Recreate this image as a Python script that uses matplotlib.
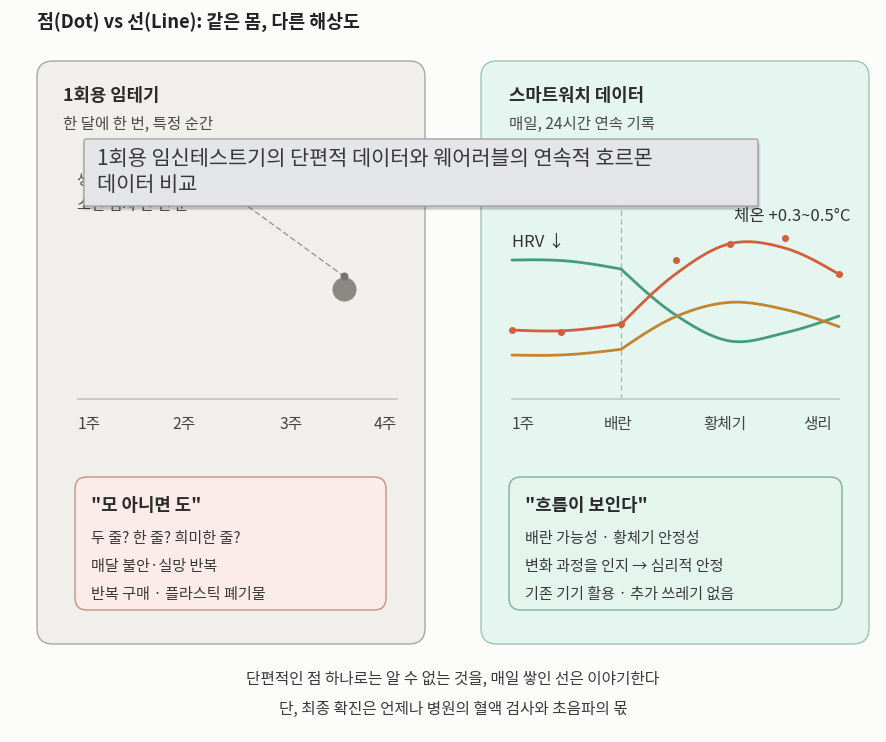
import numpy as np
import matplotlib
matplotlib.use("Agg")
import matplotlib.pyplot as plt
from matplotlib.patches import FancyBboxPatch
from matplotlib import transforms as mtrans

plt.rcParams['font.family'] = ['Noto Sans CJK KR', 'DejaVu Sans']

# ---------------- data ----------------
main_title = "점(Dot) vs 선(Line): 같은 몸, 다른 해상도"
tooltip_text = "1회용 임신테스트기의 단편적 데이터와 웨어러블의 연속적 호르몬\n데이터 비교"

left_title = "1회용 임테기"
left_sub = "한 달에 한 번, 특정 순간"
left_note = "생리 예정일 무렵\n소변 검사 한 번 뿐"
week_labels = ["1주", "2주", "3주", "4주"]
week_pos = [1, 2, 3, 4]
test_week = 3.5
test_value = 61

right_title = "스마트워치 데이터"
right_sub = "매일, 24시간 연속 기록"
phase_labels = ["1주", "배란", "황체기", "생리"]
phase_pos = [0, 1.95, 3.9, 5.6]
day_idx = [0, 1, 2, 3, 4, 5, 6]
ovulation_idx = 2
temp_trend = [38.3, 38.0, 41.5, 69.4, 86.3, 83.9, 69.3]
temp_daily = [38.3, 37.2, 41.7, 77.2, 86.1, 89.4, 69.4]
daily_x = [0, 0.9, 2, 3, 4, 5, 6]
hrv = [77.2, 76.7, 72.2, 46.7, 32.2, 36.7, 46.1]
hormone = [24.4, 24.6, 27.6, 45.7, 53.7, 49.8, 40.2]

left_box_title = "\"모 아니면 도\""
left_box_lines = ["두 줄? 한 줄? 희미한 줄?", "매달 불안·실망 반복", "반복 구매 · 플라스틱 폐기물"]
right_box_title = "\"흐름이 보인다\""
right_box_lines = ["배란 가능성 · 황체기 안정성", "변화 과정을 인지 → 심리적 안정", "기존 기기 활용 · 추가 쓰레기 없음"]
footer_lines = ["단편적인 점 하나로는 알 수 없는 것을, 매일 쌓인 선은 이야기한다",
                "단, 최종 확진은 언제나 병원의 혈액 검사와 초음파의 몫"]

# ---------------- helpers ----------------
W, H = 886, 742
fig = plt.figure(figsize=(W / 100, H / 100), dpi=100)
fig.patch.set_facecolor('#fcfcfb')


def fx(x):
    return x / W


def fy(y):
    return 1 - y / H


def rbox(x0, y0, x1, y1, fc, ec, r=14, lw=1.0, z=0, alpha=1.0):
    p = FancyBboxPatch((fx(x0), fy(y1)), fx(x1 - x0), (y1 - y0) / H,
                       boxstyle=f"round,pad=0,rounding_size={r / W}",
                       transform=fig.transFigure, fc=fc, ec=ec, lw=lw,
                       zorder=z, alpha=alpha, mutation_aspect=W / H)
    fig.patches.append(p)
    return p


def ftext(x, y, s, **kw):
    kw.setdefault('va', 'center')
    kw.setdefault('ha', 'left')
    return fig.text(fx(x), fy(y), s, **kw)


def catmull(xs, ys, n=40):
    """Cardinal (Catmull-Rom) cubic through the points, one-sided end tangents."""
    xs = np.asarray(xs, float)
    ys = np.asarray(ys, float)
    m = len(xs)
    h = np.diff(xs)
    s = np.diff(ys) / h
    t = np.zeros(m)
    for i in range(1, m - 1):
        t[i] = (ys[i + 1] - ys[i - 1]) / (xs[i + 1] - xs[i - 1])
    t[0] = (3 * s[0] - t[1]) / 2
    t[-1] = (3 * s[-1] - t[-2]) / 2
    X, Y = [], []
    for i in range(m - 1):
        u = np.linspace(0, 1, n)
        h00 = 2 * u**3 - 3 * u**2 + 1
        h10 = u**3 - 2 * u**2 + u
        h01 = -2 * u**3 + 3 * u**2
        h11 = u**3 - u**2
        X.append(xs[i] + u * h[i])
        Y.append(h00 * ys[i] + h10 * h[i] * t[i] + h01 * ys[i + 1] + h11 * h[i] * t[i + 1])
    return np.concatenate(X), np.concatenate(Y)


def phase_curve(xs, ys, knot):
    # the cycle changes regime at ovulation: smooth pieces joined at the knot
    k = list(xs).index(knot)
    ax_, ay_ = catmull(xs[:k + 1], ys[:k + 1])
    bx_, by_ = catmull(xs[k:], ys[k:])
    return np.concatenate([ax_, bx_]), np.concatenate([ay_, by_])


TXT = '#2b2b2b'
SUB = '#4a4a4a'

# ---------------- title ----------------
ftext(37, 22, main_title, fontsize=13.2, fontweight='bold', color='#222222')

# ---------------- panels ----------------
rbox(37, 61, 425, 644, '#f0efeb', '#a9a7a2', r=16, lw=1.0)
rbox(481, 61, 869, 644, '#e5f5ef', '#9cc5b4', r=16, lw=1.0)

ftext(63, 96, left_title, fontsize=12.8, fontweight='bold', color=TXT)
ftext(63, 124, left_sub, fontsize=11.2, color=SUB)
ftext(509, 96, right_title, fontsize=12.8, fontweight='bold', color=TXT)
ftext(509, 124, right_sub, fontsize=11.2, color=SUB)

# left note (partly hidden under the tooltip)
ftext(77, 193, left_note, fontsize=11, color=SUB, linespacing=1.55)

# ---------------- left chart ----------------
axL = fig.add_axes([fx(78), fy(399), fx(397) - fx(78), (399 - 219) / H], zorder=5)
axL.set_xlim(week_pos[0], week_pos[-1])
axL.set_ylim(0, 100)
axL.patch.set_alpha(0)
for sp in ['top', 'right', 'left']:
    axL.spines[sp].set_visible(False)
axL.spines['bottom'].set_color('#c9c7c1')
axL.spines['bottom'].set_linewidth(1.3)
axL.set_yticks([])
axL.set_xticks(week_pos)
axL.set_xticklabels(week_labels, fontsize=11.3, color='#444444')
axL.tick_params(axis='x', length=0, pad=12)
tl = axL.get_xticklabels()
tl[0].set_ha('left')
tl[-1].set_ha('right')

axL.scatter([test_week], [test_value], s=24**2 * 0.52, color='#8a8883', zorder=3, lw=0,
            clip_on=False)
top_tr = mtrans.offset_copy(axL.transData, fig=fig, x=0, y=13, units='dots')
axL.scatter([test_week], [test_value], s=8**2 * 0.52, color='#75736e', zorder=4, lw=0,
            transform=top_tr, clip_on=False)
axL.annotate('', xy=(test_week, test_value), xycoords=top_tr,
             xytext=(fx(220), fy(186)), textcoords='figure fraction',
             arrowprops=dict(arrowstyle='-', color='#8f8f8c', lw=0.9,
                             linestyle=(0, (4, 3)), shrinkA=0, shrinkB=0),
             annotation_clip=False)

# ---------------- right chart ----------------
axR = fig.add_axes([fx(512), fy(399), fx(839) - fx(512), (399 - 219) / H], zorder=5)
axR.set_xlim(day_idx[0], day_idx[-1])
axR.set_ylim(0, 100)
axR.patch.set_alpha(0)
for sp in ['top', 'right', 'left']:
    axR.spines[sp].set_visible(False)
axR.spines['bottom'].set_color('#c3cbc6')
axR.spines['bottom'].set_linewidth(1.3)
axR.set_yticks([])
axR.set_xticks(phase_pos)
axR.set_xticklabels(phase_labels, fontsize=11.3, color='#444444')
axR.tick_params(axis='x', length=0, pad=12)
trl = axR.get_xticklabels()
trl[0].set_ha('left')

axR.axvline(ovulation_idx, ymin=0, ymax=(399 - 180) / 180, color='#a9b3ae', lw=0.9,
            linestyle=(0, (4, 3)), clip_on=False, zorder=1)

RED = '#d35f3a'
GREEN = '#449d7a'
ORANGE = '#c4832d'
gx, gy = phase_curve(day_idx, hrv, ovulation_idx)
axR.plot(gx, gy, color=GREEN, lw=2.0, solid_capstyle='round', zorder=3, clip_on=False)
ox, oy = phase_curve(day_idx, hormone, ovulation_idx)
axR.plot(ox, oy, color=ORANGE, lw=2.0, solid_capstyle='round', zorder=3, clip_on=False)
rx, ry = phase_curve(day_idx, temp_trend, ovulation_idx)
axR.plot(rx, ry, color=RED, lw=2.0, solid_capstyle='round', zorder=4, clip_on=False)
axR.scatter(daily_x, temp_daily, s=7**2 * 0.52, color=RED, zorder=5, lw=0, clip_on=False)

ftext(512, 242, "HRV ↓", fontsize=12, color='#333333', zorder=6)
ftext(851, 216, "체온 +0.3~0.5°C", fontsize=12, color='#333333', ha='right', zorder=6)

# ---------------- bottom boxes ----------------
rbox(75, 477, 386, 610, '#fbecea', '#cf8c86', r=12, lw=1.0, z=1)
rbox(509, 477, 842, 610, '#e4f5ee', '#7fae99', r=12, lw=1.0, z=1)

ftext(91, 506, left_box_title, fontsize=12.8, fontweight='bold', color=TXT)
for i, s in enumerate(left_box_lines):
    ftext(91, 538 + 28 * i, s, fontsize=10.9, color='#3a3a3a')
ftext(525, 506, right_box_title, fontsize=12.8, fontweight='bold', color=TXT)
for i, s in enumerate(right_box_lines):
    ftext(525, 538 + 28 * i, s, fontsize=10.9, color='#3a3a3a')

# ---------------- footer ----------------
ftext(453, 679, footer_lines[0], fontsize=11.3, color='#3a3a3a', ha='center')
ftext(453, 709, footer_lines[1], fontsize=11.3, color='#3a3a3a', ha='center')

# ---------------- tooltip overlay ----------------
for k, a in enumerate([0.10, 0.07, 0.04]):
    rbox(84 - k, 139 + 2 + k, 758 + k + 1, 206 + 3 + k, '#000000', 'none', r=3, lw=0,
         z=20, alpha=a)
rbox(84, 139, 758, 206, '#e4e5e8', '#a3a3a3', r=2, lw=1.0, z=21)
ftext(97, 172, tooltip_text, fontsize=15, color='#383838', zorder=22,
      linespacing=1.2)

fig.savefig('out.png', dpi=100, facecolor=fig.get_facecolor())
